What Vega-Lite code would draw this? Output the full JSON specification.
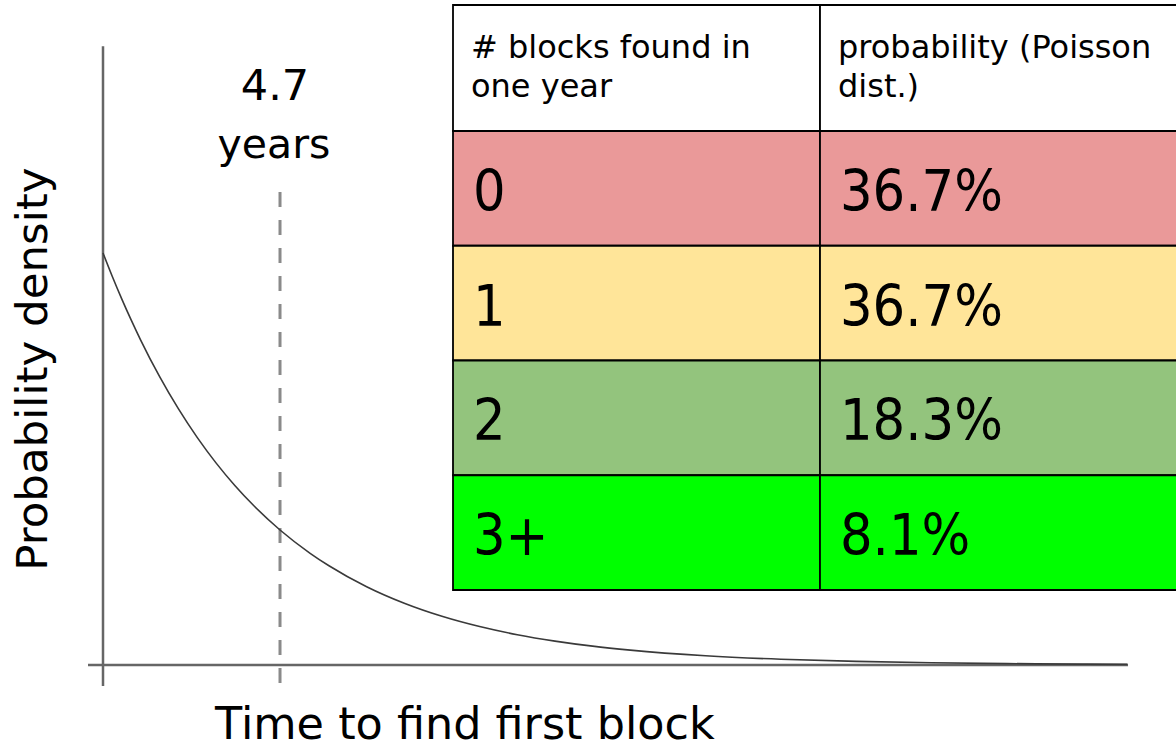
{
  "$schema": "https://vega.github.io/schema/vega-lite/v6.json",
  "width": 1176,
  "height": 745,
  "padding": 0,
  "autosize": {"type": "none"},
  "background": "white",
  "config": {"view": {"stroke": null}, "font": "DejaVu Sans"},
  "datasets": {
    "curve": [
      {"t": 0, "density": 1.0},
      {"t": 0.25, "density": 0.9424},
      {"t": 0.5, "density": 0.8881},
      {"t": 0.75, "density": 0.837},
      {"t": 1, "density": 0.7887},
      {"t": 1.5, "density": 0.7004},
      {"t": 2, "density": 0.6221},
      {"t": 2.5, "density": 0.5525},
      {"t": 3, "density": 0.4906},
      {"t": 3.5, "density": 0.4357},
      {"t": 4, "density": 0.387},
      {"t": 4.7, "density": 0.3277},
      {"t": 5.5, "density": 0.2711},
      {"t": 6, "density": 0.2408},
      {"t": 7, "density": 0.1899},
      {"t": 8, "density": 0.1498},
      {"t": 9, "density": 0.1181},
      {"t": 10, "density": 0.0932},
      {"t": 11, "density": 0.0735},
      {"t": 12, "density": 0.058},
      {"t": 13, "density": 0.0457},
      {"t": 14, "density": 0.0361},
      {"t": 16, "density": 0.0224},
      {"t": 18, "density": 0.0139},
      {"t": 20, "density": 0.0087},
      {"t": 22, "density": 0.0054},
      {"t": 24, "density": 0.0034},
      {"t": 26, "density": 0.0021},
      {"t": 27.2, "density": 0.0016}
    ],
    "header": [
      {"row": "h", "col": "c1", "label": "# blocks found in\none year"},
      {"row": "h", "col": "c2", "label": "probability (Poisson\ndist.)"}
    ],
    "body": [
      {"row": "0", "col": "c1", "label": "0"},
      {"row": "0", "col": "c2", "label": "36.7%"},
      {"row": "1", "col": "c1", "label": "1"},
      {"row": "1", "col": "c2", "label": "36.7%"},
      {"row": "2", "col": "c1", "label": "2"},
      {"row": "2", "col": "c2", "label": "18.3%"},
      {"row": "3+", "col": "c1", "label": "3+"},
      {"row": "3+", "col": "c2", "label": "8.1%"}
    ],
    "notes": [{"label": "note"}]
  },
  "layer": [
    {
      "layer": [
        {
          "data": {"name": "notes"},
          "mark": {"type": "rule", "color": "#666666", "strokeWidth": 2.5},
          "encoding": {
            "x": {"datum": -0.398, "type": "quantitative", "scale": {"domain": [-2.735, 28.491], "nice": false, "zero": false}, "axis": null},
            "x2": {"datum": 27.217},
            "y": {"datum": 0, "type": "quantitative", "scale": {"domain": [-0.1942, 1.6141], "nice": false, "zero": false}, "axis": null}
          }
        },
        {
          "data": {"name": "notes"},
          "mark": {"type": "rule", "color": "#666666", "strokeWidth": 2.5},
          "encoding": {
            "x": {"datum": 0, "type": "quantitative", "axis": null},
            "y": {"datum": 1.502, "type": "quantitative", "axis": null},
            "y2": {"datum": -0.051}
          }
        },
        {
          "data": {"name": "notes"},
          "mark": {"type": "rule", "color": "#8a8a8a", "strokeWidth": 3, "strokeDash": [15, 13]},
          "encoding": {
            "x": {"datum": 4.7, "type": "quantitative", "axis": null},
            "y": {"datum": 1.148, "type": "quantitative", "axis": null},
            "y2": {"datum": -0.051}
          }
        },
        {
          "data": {"name": "curve"},
          "mark": {"type": "line", "color": "#3a3a3a", "strokeWidth": 1.6, "interpolate": "monotone"},
          "encoding": {
            "x": {"field": "t", "type": "quantitative", "axis": null},
            "y": {"field": "density", "type": "quantitative", "axis": null}
          }
        },
        {
          "data": {"name": "notes"},
          "mark": {"type": "text", "fontSize": 43, "align": "center", "baseline": "alphabetic", "color": "black", "dx": -5},
          "encoding": {
            "x": {"datum": 4.7, "type": "quantitative", "axis": null},
            "y": {"datum": 1.3714, "type": "quantitative", "axis": null},
            "text": {"value": "4.7"}
          }
        },
        {
          "data": {"name": "notes"},
          "mark": {"type": "text", "fontSize": 41, "align": "center", "baseline": "alphabetic", "color": "black", "dx": -6},
          "encoding": {
            "x": {"datum": 4.7, "type": "quantitative", "axis": null},
            "y": {"datum": 1.2306, "type": "quantitative", "axis": null},
            "text": {"value": "years"}
          }
        },
        {
          "data": {"name": "notes"},
          "mark": {"type": "text", "fontSize": 44.5, "align": "center", "baseline": "alphabetic", "color": "black"},
          "encoding": {
            "x": {"datum": 9.61, "type": "quantitative", "axis": null},
            "y": {"datum": -0.1796, "type": "quantitative", "axis": null},
            "text": {"value": "Time to find first block"}
          }
        },
        {
          "data": {"name": "notes"},
          "mark": {"type": "text", "fontSize": 43.5, "align": "center", "baseline": "alphabetic", "angle": 270, "color": "black"},
          "encoding": {
            "x": {"datum": -1.496, "type": "quantitative", "axis": null},
            "y": {"datum": 0.7184, "type": "quantitative", "axis": null},
            "text": {"value": "Probability density"}
          }
        }
      ]
    },
    {
      "layer": [
        {
          "data": {"name": "header"},
          "encoding": {
            "y": {"field": "row", "type": "nominal", "axis": null, "scale": {"domain": ["h"], "range": [5, 131], "paddingInner": 0, "paddingOuter": 0}}
          },
          "layer": [
            {
              "mark": {"type": "rect", "fill": "white", "stroke": "black", "strokeWidth": 1.8},
              "encoding": {
                "x": {"field": "col", "type": "nominal", "axis": null, "scale": {"domain": ["c1", "c2"], "range": [453, 1187], "paddingInner": 0, "paddingOuter": 0}}
              }
            },
            {
              "mark": {"type": "text", "font": "DejaVu Sans", "fontSize": 32, "align": "left", "baseline": "top", "dx": 18, "dy": -35, "lineBreak": "\n", "lineHeight": 39.4, "color": "black"},
              "encoding": {
                "x": {"field": "col", "type": "nominal", "axis": null, "bandPosition": 0},
                "text": {"field": "label"}
              }
            }
          ]
        },
        {
          "data": {"name": "body"},
          "encoding": {
            "y": {"field": "row", "type": "nominal", "axis": null, "scale": {"domain": ["0", "1", "2", "3+"], "range": [131, 590], "paddingInner": 0, "paddingOuter": 0}}
          },
          "layer": [
            {
              "mark": {"type": "rect", "stroke": "black", "strokeWidth": 1.8},
              "encoding": {
                "x": {"field": "col", "type": "nominal", "axis": null},
                "fill": {"field": "row", "type": "nominal", "legend": null, "scale": {"domain": ["0", "1", "2", "3+"], "range": ["#ea9999", "#ffe599", "#93c47d", "#00ff00"]}}
              }
            },
            {
              "mark": {"type": "text", "font": "DejaVu Sans Condensed", "fontSize": 57, "align": "left", "baseline": "alphabetic", "dx": 20, "dy": 22.5, "color": "black"},
              "encoding": {
                "x": {"field": "col", "type": "nominal", "axis": null, "bandPosition": 0},
                "text": {"field": "label"}
              }
            }
          ]
        }
      ],
      "resolve": {"scale": {"y": "independent"}}
    }
  ],
  "resolve": {"scale": {"x": "independent", "y": "independent"}}
}
